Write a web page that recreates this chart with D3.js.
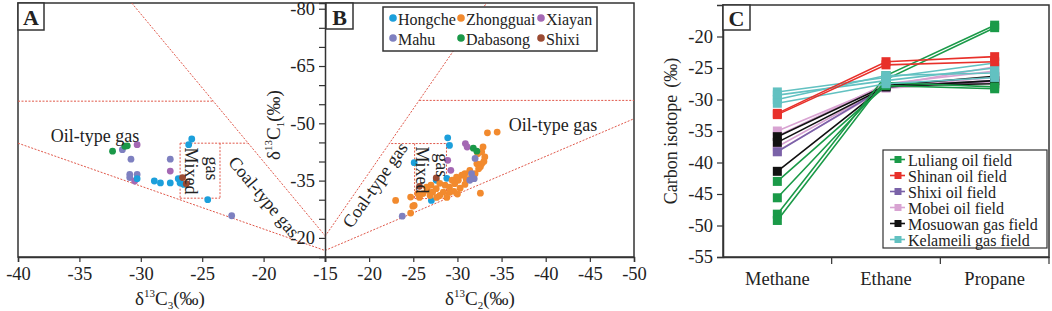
<!DOCTYPE html>
<html>
<head>
<meta charset="utf-8">
<script src="https://cdn.jsdelivr.net/npm/d3@7/dist/d3.min.js"></script>
<style>
  body { margin: 0; background: #fff; }
  svg { display: block; }
  text { font-family: "Liberation Serif", "Times New Roman", serif; fill: #222; }
</style>
</head>
<body>
<svg id="chart" width="1052" height="311"></svg>
<script>
// ---- data: panel A (x = d13C3, y = d13C1) ----
const hongcheA = [[-25.85, -45.9], [-26.1, -44.4], [-28.9, -34.9], [-28.4, -34.4], [-27.6, -34.4],
  [-26.95, -35.5], [-26.8, -34.4], [-26.5, -34.0], [-24.55, -30.0], [-30.3, -35.5]]
const mahuA = [[-31.5, -43.1], [-30.8, -40.6], [-30.9, -36.6], [-30.3, -36.6], [-30.9, -35.8],
  [-27.6, -40.6], [-22.6, -25.8]]
const xiayanA = [[-30.3, -44.4], [-27.6, -37.5], [-30.5, -34.9]]
const dabasongA = [[-32.3, -42.7], [-31.3, -44.0], [-31.1, -44.1]]
const shixiA = [[-26.6, -35.8], [-26.3, -34.2]]

// ---- data: panel B (x = d13C2, y = d13C1) ----
const zhongguaiB = [[-23.0, -29.8], [-24.7, -30.7], [-24.95, -28.3], [-24.7, -26.5], [-33.4, -47.5],
  [-34.5, -47.7], [-32.6, -31.7], [-32.75, -42.5], [-33.1, -41.2], [-32.75, -39.4], [-32.6, -38.6],
  [-32.2, -39.4], [-32.9, -43.8], [-32.4, -38.1], [-32.0, -36.8], [-30.85, -36.8], [-30.5, -36.4],
  [-30.1, -35.1], [-29.9, -35.9], [-26.5, -33.3], [-27.6, -32.9], [-28.6, -33.8], [-29.1, -33.3],
  [-29.7, -34.2], [-28.4, -32.0], [-27.2, -32.0], [-26.1, -31.6], [-26.9, -31.1], [-28.0, -31.1],
  [-29.1, -31.9], [-30.3, -33.0], [-30.85, -34.0], [-28.8, -30.6], [-27.65, -30.6], [-26.6, -32.5],
  [-25.5, -31.6], [-25.7, -30.6], [-29.4, -35.1], [-31.0, -35.3], [-31.4, -37.7], [-25.1, -28.5],
  [-32.3, -42.0], [-33.0, -40.0], [-29.6, -32.2], [-28.0, -34.3], [-27.0, -33.8], [-30.0, -31.5],
  [-31.6, -36.0]]
const hongcheB = [[-28.9, -46.2], [-29.1, -44.2], [-25.1, -39.7], [-27.05, -29.8], [-27.6, -35.1],
  [-28.8, -35.6]]
const xiayanB = [[-30.9, -44.7], [-31.1, -43.8], [-29.25, -37.7], [-28.9, -40.3]]
const mahuB = [[-23.75, -25.7], [-32.0, -40.8], [-31.6, -36.8], [-31.9, -35.5], [-31.4, -35.1]]
const dabasongB = [[-31.8, -43.5], [-32.2, -42.7]]
const shixiB = [[-27.6, -35.7], [-25.7, -33.5]]

const groupNames = ["Hongche", "Zhongguai", "Xiayan", "Mahu", "Dabasong", "Shixi"]

// boundary lines (data units)
const linesA = [
  [[-40, -44.8], [-15, -16.7]],
  [[-30.74, -81.5], [-15, -20.6]],
  [[-40, -55.8], [-24.1, -55.8]],
  [[-26.8, -44.8], [-21.3, -44.8]],
  [[-26.8, -44.8], [-26.8, -30.0]],
  [[-23.55, -44.8], [-23.55, -30.4]],
  [[-26.8, -30.4], [-23.55, -30.4]]
]
const linesB = [
  [[-15, -16.7], [-50, -51.2]],
  [[-15, -20.4], [-33.3, -81.5]],
  [[-25.67, -56.0], [-50, -56.0]],
  [[-22.5, -44.7], [-28.76, -44.7]],
  [[-25.15, -44.7], [-25.15, -30.3]],
  [[-28.76, -44.7], [-28.76, -30.3]],
  [[-25.15, -30.3], [-28.76, -30.3]]
]

// ---- data: panel C ----
const gasTypes = ["Methane", "Ethane", "Propane"]
const luliang = [[-43.0, -27.8, -28.3], [-45.6, -27.3, -28.0], [-48.2, -26.2, -18.2], [-49.2, -26.8, -18.6]]
const shinan = [[-32.2, -24.0, -23.2], [-32.4, -24.5, -24.0]]
const shixi = [[-38.3, -28.0, -27.0]]
const mobei = [[-35.0, -27.8, -24.8], [-35.8, -27.5, -25.5], [-37.5, -28.0, -26.5], [-38.2, -28.2, -27.2]]
const mosuowan = [[-35.9, -27.8, -26.3], [-36.8, -28.0, -27.0], [-41.4, -27.8, -27.5]]
const kelameili = [[-28.8, -26.5, -24.2], [-29.3, -27.0, -25.0], [-30.0, -26.2, -25.8], [-30.6, -27.5, -26.5]]
const fieldNames = ["Luliang oil field", "Shinan oil field", "Shixi oil field", "Mobei oil field",
  "Mosuowan gas field", "Kelameili gas field"]

const groupColors = {
  Hongche: "#1c9fdb", Zhongguai: "#f28a2e", Xiayan: "#a468b3",
  Mahu: "#7e80c0", Dabasong: "#1a9848", Shixi: "#9b4b32"
}
const fieldColors = ["#1a9a48", "#e8302a", "#7a62a8", "#d8a3d2", "#111111", "#62c1c1"]
const DASH = "#e0584a"
const FRAME = "#333"

const svg = d3.select("#chart")

// ---- scales ----
const xA = d3.scaleLinear().domain([-40, -15]).range([18, 325])
const xB = d3.scaleLinear().domain([-15, -50]).range([325, 634])
const y1 = d3.scaleLinear().domain([-15, -81.5]).range([257, 3])

const xC = d3.scaleBand().domain(gasTypes).range([723, 1049])
const yC = d3.scaleLinear().domain([-55, -15]).range([257, 5])

const minus = d => String(d)

// frames for A and B
svg.append("rect").attr("x", 18).attr("y", 3).attr("width", 616).attr("height", 254)
  .attr("fill", "none").attr("stroke", FRAME).attr("stroke-width", 1.5)

function drawLines(g, lines, xs) {
  g.selectAll(null).data(lines).join("line")
    .attr("x1", d => xs(d[0][0])).attr("y1", d => y1(d[0][1]))
    .attr("x2", d => xs(d[1][0])).attr("y2", d => y1(d[1][1]))
    .attr("stroke", DASH).attr("stroke-width", 1).attr("stroke-dasharray", "2,1.5")
}
drawLines(svg.append("g"), linesA, xA)
drawLines(svg.append("g"), linesB, xB)

function drawPoints(g, pts, xs, color) {
  g.selectAll(null).data(pts).join("circle")
    .attr("cx", d => xs(d[0])).attr("cy", d => y1(d[1]))
    .attr("r", 3.4).attr("fill", color)
}
const gA = svg.append("g")
drawPoints(gA, mahuA, xA, groupColors.Mahu)
drawPoints(gA, xiayanA, xA, groupColors.Xiayan)
drawPoints(gA, hongcheA, xA, groupColors.Hongche)
drawPoints(gA, dabasongA, xA, groupColors.Dabasong)
drawPoints(gA, shixiA, xA, groupColors.Shixi)

const gB = svg.append("g")
drawPoints(gB, hongcheB, xB, groupColors.Hongche)
drawPoints(gB, xiayanB, xB, groupColors.Xiayan)
drawPoints(gB, zhongguaiB, xB, groupColors.Zhongguai)
drawPoints(gB, mahuB, xB, groupColors.Mahu)
drawPoints(gB, dabasongB, xB, groupColors.Dabasong)
drawPoints(gB, shixiB, xB, groupColors.Shixi)

// region labels
function label(x, y, txt, rot, anchor) {
  svg.append("text")
    .attr("transform", `translate(${x},${y}) rotate(${rot || 0})`)
    .attr("text-anchor", anchor || "middle")
    .attr("dominant-baseline", "central")
    .attr("font-size", 18).text(txt)
}
label(95, 136, "Oil-type gas")
label(xA(-25.95), y1(-37.5), "Mixed", 90)
label(xA(-24.2), y1(-38.2), "gas", 90)
label(264, 197, "Coal-type gas", 50)
label(553, 125, "Oil-type gas")
label(xB(-26.0), y1(-37.8), "Mixed", 90)
label(xB(-28.2), y1(-39.0), "gas", 90)
label(375, 185, "Coal-type gas", -55)

// shared axes
const yAx = svg.append("g").attr("transform", "translate(325,0)")
  .call(d3.axisLeft(y1).tickValues(d3.range(-80, -19, 5)).tickSize(6).tickPadding(4)
    .tickFormat(d => (d + 80) % 15 === 0 ? minus(d) : ""))
const xAxA = svg.append("g").attr("transform", "translate(0,257)")
  .call(d3.axisBottom(xA).tickValues([-40, -35, -30, -25, -20]).tickSize(5).tickPadding(5).tickFormat(minus))
const xAxB = svg.append("g").attr("transform", "translate(0,257)")
  .call(d3.axisBottom(xB).tickValues([-15, -20, -25, -30, -35, -40, -45, -50]).tickSize(5).tickPadding(5).tickFormat(minus))
;[yAx, xAxA, xAxB].forEach(a => {
  a.select(".domain").attr("stroke", FRAME).attr("stroke-width", 1.5)
  a.selectAll(".tick line").attr("stroke", FRAME).attr("stroke-width", 1.2)
  a.selectAll("text").attr("font-size", 18.5).attr("font-family", "Liberation Serif").attr("fill", "#222")
})

// axis titles with sub/superscripts
function isoTitle(x, y, sub, rot) {
  const t = svg.append("text").attr("transform", `translate(${x},${y}) rotate(${rot || 0})`)
    .attr("text-anchor", "middle").attr("font-size", 19)
  t.append("tspan").text("δ")
  t.append("tspan").attr("font-size", 11).attr("dy", -8).text("13")
  t.append("tspan").attr("dy", 8).text("C")
  t.append("tspan").attr("font-size", 11).attr("dy", 4).text(sub)
  t.append("tspan").attr("dy", -4).text("(‰)")
}
isoTitle(170, 305, "3")
isoTitle(480, 305, "2")
isoTitle(280, 125, "1", -90)

// legend B
const legB = svg.append("g")
legB.append("rect").attr("x", 383).attr("y", 7).attr("width", 214).attr("height", 44)
  .attr("fill", "#fff").attr("stroke", FRAME).attr("stroke-width", 1.5)
const legPos = [[393, 18], [461, 18], [541, 18], [393, 38], [461, 38], [541, 38]]
groupNames.forEach((n, i) => {
  const [lx, ly] = legPos[i]
  legB.append("circle").attr("cx", lx).attr("cy", ly).attr("r", 3.8).attr("fill", groupColors[n])
  legB.append("text").attr("x", lx + 5).attr("y", ly + 1).attr("dominant-baseline", "central")
    .attr("font-size", 16).text(n)
})

// ---- panel C ----
const lineGen = d3.line().x((d, i) => xC(gasTypes[i]) + xC.bandwidth() / 2).y(d => yC(d))
const seriesC = [luliang, shinan, shixi, mobei, mosuowan, kelameili]
const drawOrder = [3, 2, 4, 0, 5, 1]
drawOrder.forEach(k => {
  const g = svg.append("g")
  seriesC[k].forEach(s => {
    g.append("path").attr("d", lineGen(s)).attr("fill", "none")
      .attr("stroke", fieldColors[k]).attr("stroke-width", 1.6)
    g.selectAll(null).data(s).join("rect")
      .attr("x", (d, i) => xC(gasTypes[i]) + xC.bandwidth() / 2 - 4.5)
      .attr("y", d => yC(d) - 4.5).attr("width", 9).attr("height", 9)
      .attr("fill", fieldColors[k])
  })
})

svg.append("rect").attr("x", 723).attr("y", 5).attr("width", 326).attr("height", 252)
  .attr("fill", "none").attr("stroke", FRAME).attr("stroke-width", 1.5)
const yAxC = svg.append("g").attr("transform", "translate(723,0)")
  .call(d3.axisLeft(yC).tickValues(d3.range(-55, -19, 5)).tickSize(6).tickPadding(4).tickFormat(minus))
const xAxC = svg.append("g").attr("transform", "translate(0,257)")
  .call(d3.axisBottom(xC).tickSize(0).tickPadding(15))
xAxC.selectAll(null).data([...gasTypes.slice(1), null]).join("line")
  .attr("x1", d => d ? xC(d) : 1049).attr("x2", d => d ? xC(d) : 1049)
  .attr("y1", 0).attr("y2", 7).attr("stroke", FRAME).attr("stroke-width", 1.2)
;[yAxC, xAxC].forEach(a => {
  a.select(".domain").attr("stroke", FRAME).attr("stroke-width", 1.5)
  a.selectAll(".tick line").attr("stroke", FRAME).attr("stroke-width", 1.2)
  a.selectAll("text").attr("font-size", 18.5).attr("font-family", "Liberation Serif").attr("fill", "#222")
})
svg.append("text").attr("transform", "translate(677,131) rotate(-90)")
  .attr("text-anchor", "middle").attr("font-size", 18).text("Carbon isotope\u2009\u2009(‰)")

// legend C
const legC = svg.append("g")
legC.append("rect").attr("x", 883).attr("y", 150).attr("width", 164).attr("height", 98)
  .attr("fill", "#fff").attr("stroke", FRAME).attr("stroke-width", 1.2)
fieldNames.forEach((n, i) => {
  const ly = 159.5 + i * 16
  legC.append("line").attr("x1", 890).attr("x2", 905).attr("y1", ly).attr("y2", ly)
    .attr("stroke", fieldColors[i]).attr("stroke-width", 1.6)
  legC.append("rect").attr("x", 894.5).attr("y", ly - 3.5).attr("width", 7).attr("height", 7)
    .attr("fill", fieldColors[i])
  legC.append("text").attr("x", 908).attr("y", ly + 1).attr("dominant-baseline", "central")
    .attr("font-size", 16).text(n)
})

// panel letters
function panelTag(x, y, w, h, t) {
  svg.append("rect").attr("x", x).attr("y", y).attr("width", w).attr("height", h)
    .attr("fill", "#fff").attr("stroke", FRAME).attr("stroke-width", 1.5)
  svg.append("text").attr("x", x + w / 2).attr("y", y + h / 2 + 1).attr("text-anchor", "middle")
    .attr("dominant-baseline", "central").attr("font-family", "Liberation Sans, Arial, sans-serif")
    .attr("font-weight", "bold").attr("font-size", 22).attr("fill", "#111").text(t)
}
panelTag(18, 3, 26, 27, "A")
panelTag(326, 3, 27, 26, "B")
panelTag(723, 5, 27, 25, "C")
</script>
</body>
</html>
